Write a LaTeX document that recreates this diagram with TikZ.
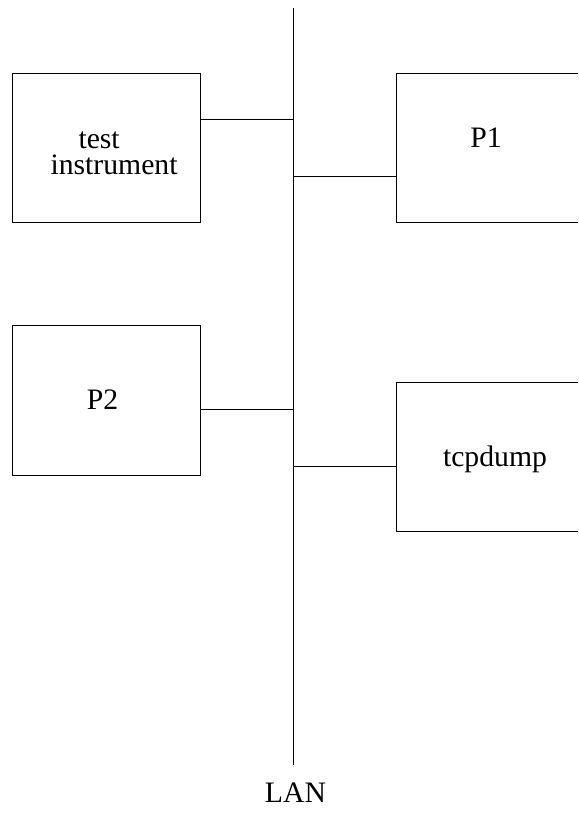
\documentclass[tikz,border=0pt]{standalone}
\usepackage{fontspec}
\setmainfont{Liberation Serif}
\usepackage{tikz}

\tikzset{
  unitbox/.style = {draw, line width = 1pt, rectangle, inner sep = 0pt},
  lbl/.style = {font = \fontsize{29.7}{27}\selectfont, inner sep = 0pt, anchor = base}
}

\begin{document}
\begin{tikzpicture}[x = 1pt, y = -1pt, line width = 1pt]
\clip (0, 0) rectangle (578, 813);

\coordinate (lantop) at (293.3, 8);
\coordinate (lanbot) at (293.3, 765);
\draw (lantop) -- (lanbot);
\draw (295.5, 802.7) node[lbl] (lan) {LAN};

\node[unitbox, minimum width = 187.3pt, minimum height = 149.4pt] (testbox) at (106.4, 148) {};
\node[unitbox, minimum width = 210pt, minimum height = 149.4pt] (ponebox) at (501.5, 148) {};
\node[unitbox, minimum width = 187.3pt, minimum height = 149.7pt] (ptwobox) at (106.4, 400.2) {};
\node[unitbox, minimum width = 210pt, minimum height = 149.7pt] (dumpbox) at (501.7, 456.9) {};

\draw (78, 148.3) node[lbl, anchor = base west] (testtxt) {test};
\draw (50, 175) node[lbl, anchor = base west] (instrtxt) {instrument};
\draw (486, 148) node[lbl] (ponetxt) {P1};
\draw (102.5, 409.3) node[lbl] (ptwotxt) {P2};
\draw (495, 466.7) node[lbl] (dumptxt) {tcpdump};

\coordinate (tapa) at (293.3, 120);
\coordinate (tapb) at (293.3, 176.5);
\coordinate (tapc) at (293.3, 409.3);
\coordinate (tapd) at (293.3, 466.3);
\draw (testbox.east |- tapa) -- (tapa);
\draw (tapb) -- (ponebox.west |- tapb);
\draw (ptwobox.east |- tapc) -- (tapc);
\draw (tapd) -- (dumpbox.west |- tapd);

\end{tikzpicture}
\end{document}
